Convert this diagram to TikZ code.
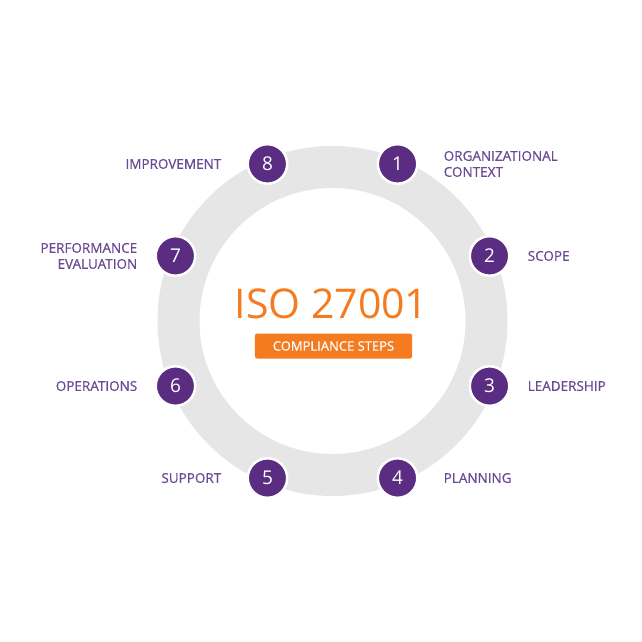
\documentclass[tikz,border=0pt]{standalone}
\usepackage{fontspec}
\setmainfont{Open Sans}
\newfontfamily\semifont[FakeBold=0.7]{Open Sans}
\usetikzlibrary{positioning}
\definecolor{ringgray}{HTML}{E6E6E6}
\definecolor{steppurple}{HTML}{5B2D82}
\definecolor{labelpurple}{HTML}{6A4A93}
\definecolor{isoorange}{HTML}{F47B20}

\begin{document}
\begin{tikzpicture}[
    x=1pt, y=1pt,
    node distance=25pt and 25pt,
    stepdot/.style={circle, fill=steppurple, draw=white, line width=2.5pt, minimum size=39.5pt, inner sep=0pt, text=white, font=\fontsize{19}{19}\selectfont},
    steplabel/.style={text=labelpurple, inner sep=0pt, font=\semifont\fontsize{13.5}{16}\selectfont},
    badge/.style={fill=isoorange, rounded corners=2pt, minimum width=157pt, minimum height=25pt, inner sep=0pt, text=white, font=\semifont\fontsize{13}{13}\selectfont}
  ]
    \useasboundingbox (-332.5,-321) rectangle (309.5,321);
    \draw[ringgray, line width=42pt] (0,0) circle (154);
    \node[stepdot] (s1) at (67.5:170) {1};
    \node[stepdot] (s2) at (22.5:170) {2};
    \node[stepdot] (s3) at (-22.5:170) {3};
    \node[stepdot] (s4) at (-67.5:170) {4};
    \node[stepdot] (s5) at (-112.5:170) {5};
    \node[stepdot] (s6) at (-157.5:170) {6};
    \node[stepdot] (s7) at (157.5:170) {7};
    \node[stepdot] (s8) at (112.5:170) {8};
    \node[steplabel, align=left, right=25pt of s1] (l1) {ORGANIZATIONAL\\CONTEXT};
    \node[steplabel, right=17pt of s2] (l2) {SCOPE};
    \node[steplabel, right=17pt of s3] (l3) {LEADERSHIP};
    \node[steplabel, right=25pt of s4] (l4) {PLANNING};
    \node[steplabel, left=25pt of s5] (l5) {SUPPORT};
    \node[steplabel, left=17pt of s6] (l6) {OPERATIONS};
    \node[steplabel, align=right, left=17pt of s7] (l7) {PERFORMANCE\\EVALUATION};
    \node[steplabel, left=25pt of s8] (l8) {IMPROVEMENT};
    \node[text=isoorange, font=\fontsize{41}{41}\selectfont] (iso) at (-1,17.5) {ISO 27001};
    \node[badge] (steps) at (1,-25) {COMPLIANCE STEPS};
\end{tikzpicture}
\end{document}
